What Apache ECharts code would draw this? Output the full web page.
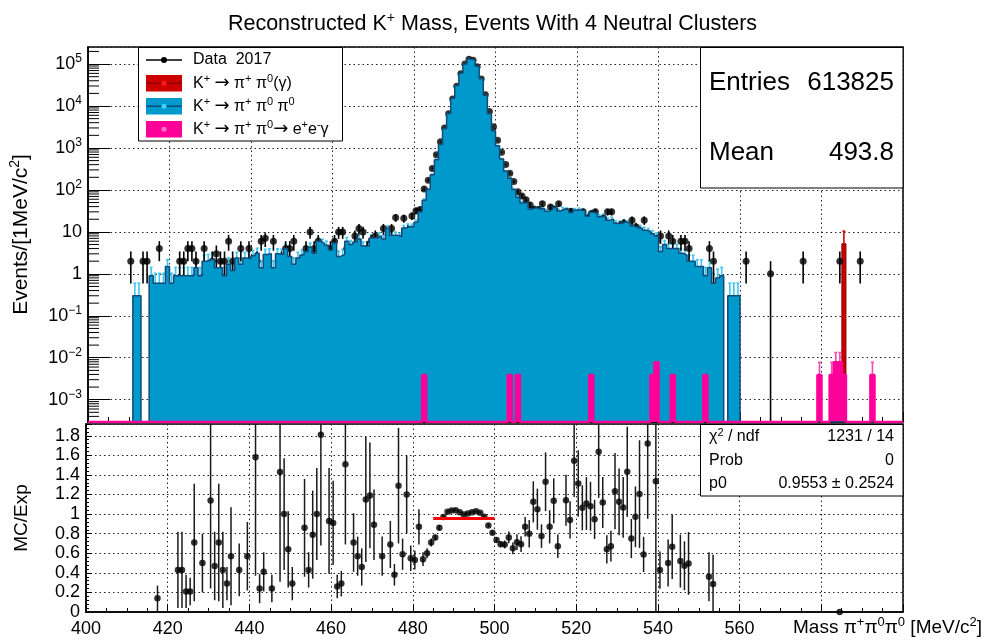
<!DOCTYPE html>
<html>
<head>
<meta charset="utf-8">
<script src="https://cdn.jsdelivr.net/npm/echarts@6/dist/echarts.min.js"></script>
<style>
  html, body { margin: 0; padding: 0; background: #fff; }
  #chart { width: 985px; height: 641px; }
</style>
</head>
<body>
<div id="chart"></div>
<script>
// ---------------- binning ----------------
const X_MIN = 400, X_MAX = 600;          // MeV/c^2, 1 MeV bins
const Y_MIN = 2.94e-4, Y_MAX = 2.55e5;   // log range of the spectrum pad
const R_MIN = 0, R_MAX = 1.92;           // ratio pad range

// ---------------- K+ -> pi+ pi0 pi0 (simulation), bins 411..559 ----------------
const pi0pi0Start = 411;
const pi0pi0Weight = 0.3;
const pi0pi0Vals = [
  0.3, 0.3, 0, 0, 0.9, 0.6, 0.6, 0.6, 1.5, 0.6,
  0.9, 0.9, 0.9, 0.9, 0.9, 1.4, 0.9, 2.0, 2.1, 2.3,
  1.4, 1.4, 0.9, 1.7, 1.2, 2.4, 1.7, 2.4, 2.3, 2.7,
  3.1, 1.4, 2.9, 3.0, 1.4, 3.0, 2.9, 4.0, 2.6, 1.7,
  2.4, 2.8, 3.4, 4.3, 3.1, 6.0, 5.4, 4.8, 3.7, 5.4,
  2.6, 2.9, 6.0, 5.0, 5.7, 6.8, 4.6, 4.6, 7.1, 7.2,
  8.0, 6.8, 12, 8.3, 8.3, 7.7, 12.3, 13.4, 13.3, 17,
  30, 57, 102, 230, 525, 1213, 2916, 6650, 15240, 30800,
  60200, 100600, 131800, 126500, 88600, 44600, 18000, 6540, 2590, 1125,
  547, 280, 190, 102, 66, 48.5, 50, 35, 37.8, 35,
  36, 31, 34, 38, 31.5, 35, 33.8, 28.8, 32.9, 33.6,
  31.5, 23.6, 29.2, 28, 22.9, 23.8, 18.9, 19.9, 16, 15.8,
  17.3, 16, 14, 12.6, 12.3, 11, 10.3, 9, 8, 3.4,
  5, 4, 4, 4, 3.1, 2.8, 2.0, 2.0, 1.5, 1.5,
  0.9, 1.4, 0.6, 0.8, 0.9, 0, 0.3, 0.3, 0.3
];

// ---------------- K+ -> pi+ pi0 -> e+ e- gamma (simulation) ----------------
const dalitzWeight = 0.0039;
const dalitzBins = [482, 503, 505, 523, 538, 539, 543, 551, 579, 582, 583, 584, 585, 592];
const dalitzVals = [0.0039, 0.0039, 0.0039, 0.0039, 0.0039, 0.0078, 0.0039, 0.0039, 0.0039, 0.0039, 0.0078, 0.0078, 0.0039, 0.0039];

// ---------------- K+ -> pi+ pi0 (gamma) (simulation) ----------------
const pi0Weight = 5.2;
const pi0Bins = [585];
const pi0Vals = [5.2];

// ---------------- Data 2017 ----------------
const dataBins = [
  410, 413, 414, 417, 422, 423, 424, 425, 426, 428, 430, 431, 432, 433, 434, 435, 437, 439,
  441, 442, 443, 445, 447, 448, 449, 450, 453, 454, 455, 456, 457, 459, 460,
  461, 462, 463, 464, 465, 466, 467, 468, 469, 470, 471, 472, 473, 474, 475, 476, 477, 478, 479, 480,
  481, 482, 483, 484, 485, 486, 487, 488, 489, 490, 491, 492, 493, 494, 495, 496, 497, 498, 499, 500,
  501, 502, 503, 504, 505, 506, 507, 508, 509, 510, 511, 512, 513, 514, 515, 516, 517, 518, 519, 520,
  521, 522, 523, 524, 525, 526, 527, 528, 529, 530, 531, 532, 533, 534, 535, 536, 537, 538, 539, 540,
  541, 542, 543, 545, 546, 547, 552, 553, 561, 567, 575, 584, 589
];
const dataCounts = [
  2, 2, 2, 4, 2, 2, 4, 4, 2, 4, 2, 3, 2, 2, 6, 2, 4, 4,
  2, 6, 7, 6, 2, 4, 4, 6, 4, 10, 4, 6, 3, 4, 6,
  10, 10, 4, 1, 8, 12, 10, 4, 6, 8, 4, 12, 6, 12, 22, 6, 21, 11, 24, 32,
  34, 105, 171, 324, 693, 1410, 3000, 6500, 14700, 29600, 59000, 101000, 131000, 124000, 86000, 44000, 18500, 7400, 3200, 1530,
  790, 405, 250, 158, 90, 72, 58, 44, 34, 34, 47, 23, 39, 34, 47, 18, 30, 31, 21, 26,
  30, 21, 27, 30, 14, 21, 30, 30, 13, 14, 16, 11, 19, 13, 10, 19, 6, 2, 6, 8,
  2, 8, 6, 6, 6, 4, 4, 2, 2, 1, 2, 2, 2
];

// ---------------- MC / Exp ratio ----------------
const ratioBins = [
  417, 422, 423, 424, 425, 426, 428, 430, 431, 432, 433, 434, 435, 437, 439,
  441, 442, 443, 445, 447, 448, 449, 450, 453, 454, 455, 456, 457, 459, 460,
  461, 462, 463, 465, 466, 467, 468, 469, 470, 472, 474, 475, 476, 477, 478, 479, 480,
  481, 482, 483, 484, 485, 486, 487, 488, 489, 490, 491, 492, 493, 494, 495, 496, 497, 498, 499, 500,
  501, 502, 503, 504, 505, 506, 507, 508, 509, 510, 511, 512, 513, 514, 515, 517, 518, 519, 520,
  521, 522, 523, 524, 525, 526, 527, 528, 529, 530, 531, 532, 533, 534, 535, 536, 537, 539, 540,
  542, 543, 545, 546, 547, 552, 553, 584
];
const ratioVals = [
  0.14, 0.43, 0.43, 0.21, 0.21, 0.71, 0.50, 1.14, 0.47, 0.71, 0.43, 0.29, 0.57, 0.43, 0.57,
  1.58, 0.24, 0.41, 0.24, 1.43, 1.00, 0.64, 0.29, 0.86, 0.43, 0.79, 1.00, 1.81, 0.93, 0.91,
  0.26, 0.29, 1.51, 0.71, 0.57, 0.46, 1.15, 1.19, 0.89, 0.57, 0.69, 0.38, 1.29, 0.59, 1.20, 0.55, 0.53,
  0.87, 0.54, 0.60, 0.71, 0.76, 0.86, 0.97, 1.023, 1.037, 1.04, 1.02, 0.996, 1.006, 1.02, 1.03, 1.013, 0.972, 0.884, 0.81, 0.735,
  0.693, 0.69, 0.762, 0.65, 0.713, 0.693, 0.87, 0.80, 1.125, 1.05, 0.775, 1.33, 0.87, 1.136, 0.672, 1.142, 0.94, 1.545, 1.313,
  1.064, 1.108, 1.08, 0.946, 1.636, 1.118, 0.64, 0.672, 1.234, 1.125, 1.068, 1.432, 0.75, 0.972, 1.204, 0.588, 1.722, 1.336, 0.428,
  0.50, 0.667, 0.52, 0.472, 0.496, 0.36, 0.285, 0
];
const ratioErrs = [
  0.13, 0.39, 0.39, 0.17, 0.14, 0.60, 0.30, 0.90, 0.35, 0.60, 0.39, 0.17, 0.50, 0.27, 0.35,
  1.21, 0.15, 0.20, 0.14, 1.12, 0.57, 0.39, 0.17, 0.50, 0.18, 0.45, 0.47, 1.13, 0.54, 0.43,
  0.12, 0.13, 0.82, 0.30, 0.20, 0.19, 0.64, 0.54, 0.36, 0.20, 0.24, 0.11, 0.59, 0.16, 0.40, 0.13, 0.095,
  0.18, 0.07, 0.05, 0.04, 0.03, 0.025, 0.02, 0.015, 0.01, 0.01, 0.01, 0.01, 0.01, 0.01, 0.01, 0.01, 0.015, 0.02, 0.02, 0.025,
  0.03, 0.04, 0.06, 0.06, 0.08, 0.08, 0.10, 0.14, 0.21, 0.21, 0.12, 0.30, 0.17, 0.23, 0.12, 0.26, 0.19, 0.37, 0.34,
  0.23, 0.27, 0.25, 0.20, 0.47, 0.26, 0.145, 0.157, 0.39, 0.34, 0.31, 0.46, 0.20, 0.31, 0.55, 0.18, 0.77, 1.33, 0.19,
  0.24, 0.33, 0.27, 0.25, 0.32, 0.25, 0.30, 0
];

// ---------------- constant fit to the ratio ----------------
const fitRange = [485, 500];
const fitP0 = 0.9553;
const fitP0Err = 0.2524;
const fitChi2 = 1231, fitNdf = 14;
const statEntries = 613825, statMean = 493.8;

// ---------------- styling ----------------
const F = 'Liberation Sans, Arial, Helvetica, sans-serif';
const F_ARROW = 'DejaVu Sans, Liberation Sans, sans-serif';
const C_BLUE = '#0099cc', C_BLUE_LINE = '#114b78', C_BLUE_ERR = '#3fc6f2';
const C_PINK = '#ff0099', C_PINK_ERR = '#ff47b5';
const C_RED = '#cc0000', C_RED_LINE = '#8f0000';

function rich(size, supSize) {
  return {
    n: { fontSize: size, fontFamily: F, color: '#000', lineHeight: Math.round(size * 1.25) },
    s: { fontSize: supSize, fontFamily: F, color: '#000', lineHeight: supSize, verticalAlign: 'top' },
    a: { fontSize: Math.round(size * 1.1), fontFamily: F_ARROW, color: '#000', lineHeight: Math.round(size * 1.25) }
  };
}

// full-range step histogram points (bin low edges), empty bins sit on the floor
function stepPoints(valueAt) {
  const pts = [];
  for (let b = X_MIN; b < X_MAX; b++) {
    const v = valueAt(b);
    pts.push([b, v > 0 ? v : Y_MIN]);
  }
  pts.push([X_MAX, pts[pts.length - 1][1]]);
  return pts;
}
const bluePts = stepPoints(b => {
  const i = b - pi0pi0Start;
  return (i >= 0 && i < pi0pi0Vals.length) ? pi0pi0Vals[i] : 0;
});
const pinkPts = stepPoints(b => {
  const i = dalitzBins.indexOf(b);
  return i >= 0 ? dalitzVals[i] : 0;
});

// error-bar items: [bin centre, value, error]
const blueErr = [];
pi0pi0Vals.forEach((v, i) => { if (v > 0) blueErr.push([pi0pi0Start + i + 0.5, v, Math.sqrt(pi0pi0Weight * v)]); });
const pinkErr = dalitzBins.map((b, i) => [b + 0.5, dalitzVals[i], Math.sqrt(dalitzWeight * dalitzVals[i])]);
const redErr = pi0Bins.map((b, i) => [b + 0.5, pi0Vals[i], Math.sqrt(pi0Weight * pi0Vals[i])]);
const dataPts = dataBins.map((b, i) => [b + 0.5, dataCounts[i], Math.sqrt(dataCounts[i])]);
const ratioPts = ratioBins.map((b, i) => [b + 0.5, ratioVals[i], ratioErrs[i]]);

// minor ticks of the log axis (2..9 per decade)
const logMinor = [];
for (let k = -4; k <= 5; k++) for (let m = 2; m <= 9; m++) {
  const v = m * Math.pow(10, k);
  if (v > Y_MIN && v < Y_MAX) logMinor.push([X_MIN, v]);
}

function errBar(color, width, lo, hi, cap) {
  return function (params, api) {
    const x = api.value(0), v = api.value(1), e = api.value(2);
    const a = Math.max(v - e, lo), b = Math.min(v + e, hi);
    const p1 = api.coord([x, a]), p2 = api.coord([x, b]);
    const children = [{ type: 'line', shape: { x1: p1[0], y1: p1[1], x2: p2[0], y2: p2[1] },
      style: { stroke: color, lineWidth: width } }];
    if (cap && v + e < hi) children.push({ type: 'line',
      shape: { x1: p2[0] - cap, y1: p2[1], x2: p2[0] + cap, y2: p2[1] }, style: { stroke: color, lineWidth: width } });
    return { type: 'group', children };
  };
}

const dotted = { show: true, lineStyle: { color: '#222', width: 1, type: [1.5, 3] } };

const option = {
  animation: false,
  backgroundColor: '#fff',
  textStyle: { fontFamily: F },
  title: {
    text: '{n|Reconstructed K}{s|+}{n| Mass, Events With 4 Neutral Clusters}',
    left: 'center', top: 6,
    textStyle: { fontSize: 21, fontWeight: 'normal', fontFamily: F, color: '#000', rich: rich(21.5, 14) }
  },
  grid: [
    { left: 86, top: 47, width: 817, height: 375, show: true, borderColor: '#000', borderWidth: 1.5, backgroundColor: 'transparent' },
    { left: 86, top: 424, width: 817, height: 188, show: true, borderColor: '#000', borderWidth: 1.5, backgroundColor: 'transparent' }
  ],
  xAxis: [
    { gridIndex: 0, type: 'value', min: X_MIN, max: X_MAX, interval: 20,
      axisLine: { show: true, lineStyle: { color: '#000', width: 1.5 } },
      axisTick: { show: true, inside: true, length: 10, lineStyle: { color: '#000' } },
      minorTick: { show: true, splitNumber: 4, length: 5, lineStyle: { color: '#000' } },
      axisLabel: { show: false }, splitLine: dotted },
    { gridIndex: 1, type: 'value', min: X_MIN, max: X_MAX, interval: 20,
      axisLine: { show: true, lineStyle: { color: '#000', width: 1.5 } },
      axisTick: { show: true, inside: true, length: 8, lineStyle: { color: '#000' } },
      minorTick: { show: true, splitNumber: 4, length: 4, lineStyle: { color: '#000' } },
      axisLabel: { show: true, fontSize: 18, fontFamily: F, color: '#000', margin: 8,
        formatter: v => (v > 560 ? '' : String(v)) },
      splitLine: dotted,
      name: '{n|Mass π}{s|+}{n|π}{s|0}{n|π}{s|0}{n| [MeV/c}{s|2}{n|]}',
      nameLocation: 'end', nameGap: 79,
      nameTextStyle: { align: 'right', verticalAlign: 'middle', padding: [32, 0, 0, 0], rich: rich(19, 13) } }
  ],
  yAxis: [
    { gridIndex: 0, type: 'log', logBase: 10, min: Y_MIN, max: Y_MAX, splitNumber: 9,
      axisLine: { show: true, lineStyle: { color: '#000', width: 1.5 } },
      axisTick: { show: true, inside: true, length: 22, lineStyle: { color: '#000' } },
      axisLabel: { show: true, fontSize: 18, fontFamily: F, color: '#000', margin: 6, lineHeight: 22,
        showMinLabel: false, showMaxLabel: false,
        rich: { s: { fontSize: 12, fontFamily: F, color: '#000', lineHeight: 12, verticalAlign: 'top' } },
        formatter: v => {
          const e = Math.log10(v), k = Math.round(e);
          if (Math.abs(e - k) > 1e-6) return '';
          if (k === 0) return '1';
          if (k === 1) return '10';
          return '10{s|' + (k < 0 ? '\u2212' + (-k) : k) + '}';
        } },
      splitLine: dotted,
      name: '{n|Events/[1MeV/c}{s|2}{n|]}', nameLocation: 'middle', nameRotate: 90, nameGap: 54,
      nameTextStyle: { rich: rich(21, 14) } },
    { gridIndex: 1, type: 'value', min: R_MIN, max: R_MAX, interval: 0.2,
      axisLine: { show: true, lineStyle: { color: '#000', width: 1.5 } },
      axisTick: { show: true, inside: true, length: 6, lineStyle: { color: '#000' } },
      minorTick: { show: true, splitNumber: 5, length: 3, lineStyle: { color: '#000' } },
      axisLabel: { show: true, fontSize: 18, fontFamily: F, color: '#000', margin: 6, showMaxLabel: false },
      splitLine: dotted,
      name: 'MC/Exp', nameLocation: 'middle', nameRotate: 90, nameGap: 55,
      nameTextStyle: { fontSize: 19, fontFamily: F, color: '#000' } }
  ],
  series: [
    { name: 'log minor ticks', type: 'custom', xAxisIndex: 0, yAxisIndex: 0, data: logMinor, silent: true,
      renderItem: (params, api) => {
        const p = api.coord([api.value(0), api.value(1)]);
        return { type: 'line', shape: { x1: p[0], y1: p[1], x2: p[0] + 11, y2: p[1] }, style: { stroke: '#000', lineWidth: 1 } };
      } },
    { name: 'pi0pi0 err', type: 'custom', xAxisIndex: 0, yAxisIndex: 0, data: blueErr, silent: true,
      renderItem: errBar(C_BLUE_ERR, 1.6, Y_MIN, Y_MAX, 1.5) },
    { name: 'K+ -> pi+ pi0 pi0', type: 'line', xAxisIndex: 0, yAxisIndex: 0, data: bluePts, step: 'end',
      symbol: 'none', lineStyle: { color: C_BLUE_LINE, width: 1.5 },
      areaStyle: { color: C_BLUE, opacity: 1, origin: 'start' } },
    { name: 'dalitz err', type: 'custom', xAxisIndex: 0, yAxisIndex: 0, data: pinkErr, silent: true,
      renderItem: errBar(C_PINK_ERR, 1.6, Y_MIN, Y_MAX, 1.5) },
    { name: 'K+ -> pi+ pi0 -> e+e-gamma', type: 'line', xAxisIndex: 0, yAxisIndex: 0, data: pinkPts, step: 'end',
      symbol: 'none', lineStyle: { color: C_PINK, width: 2.5 },
      areaStyle: { color: C_PINK, opacity: 1, origin: 'start' } },
    { name: 'pi0 err', type: 'custom', xAxisIndex: 0, yAxisIndex: 0, data: redErr, silent: true,
      renderItem: errBar(C_RED, 1.6, Y_MIN, Y_MAX, 1.5) },
    { name: 'K+ -> pi+ pi0(gamma)', type: 'custom', xAxisIndex: 0, yAxisIndex: 0,
      data: pi0Bins.map((b, i) => [b, pi0Vals[i]]),
      renderItem: (params, api) => {
        const b = api.value(0), v = api.value(1);
        const p0 = api.coord([b, Y_MIN]), p1 = api.coord([b + 1, v]);
        return { type: 'rect', shape: { x: p0[0], y: p1[1], width: p1[0] - p0[0], height: p0[1] - p1[1] },
          style: { fill: C_RED, stroke: C_RED_LINE, lineWidth: 1 } };
      } },
    { name: 'data err', type: 'custom', xAxisIndex: 0, yAxisIndex: 0, data: dataPts, silent: true,
      renderItem: errBar('#000', 1.6, Y_MIN, Y_MAX, 0) },
    { name: 'Data 2017', type: 'scatter', xAxisIndex: 0, yAxisIndex: 0,
      data: dataPts.map(d => [d[0], d[1]]), symbol: 'circle', symbolSize: 7,
      itemStyle: { color: '#000' } },
    { name: 'ratio err', type: 'custom', xAxisIndex: 1, yAxisIndex: 1, data: ratioPts, silent: true,
      renderItem: errBar('#1a1a1a', 1.5, R_MIN, R_MAX, 0) },
    { name: 'MC/Exp', type: 'scatter', xAxisIndex: 1, yAxisIndex: 1,
      data: ratioPts.map(d => [d[0], d[1]]), symbol: 'circle', symbolSize: 6.5,
      itemStyle: { color: '#000' } },
    { name: 'fit', type: 'line', xAxisIndex: 1, yAxisIndex: 1,
      data: [[fitRange[0], fitP0], [fitRange[1], fitP0]], symbol: 'none',
      lineStyle: { color: '#ff0000', width: 3 } }
  ],
  graphic: []
};

// ---------------- legend ----------------
const legendRows = [
  { y: 60, text: '{n|Data  2017}', kind: 'data' },
  { y: 83.3, text: '{n|K}{s|+}{n| }{a|→}{n| π}{s|+}{n| π}{s|0}{n|(γ)}', fill: C_RED, line: C_RED_LINE, dot: '#ff1a1a' },
  { y: 106.3, text: '{n|K}{s|+}{n| }{a|→}{n| π}{s|+}{n| π}{s|0}{n| π}{s|0}', fill: C_BLUE, line: C_BLUE_LINE, dot: '#44d0ff' },
  { y: 129.3, text: '{n|K}{s|+}{n| }{a|→}{n| π}{s|+}{n| π}{s|0}{a|→}{n| e}{s|+}{n|e}{s|-}{n|γ}', fill: C_PINK, line: C_PINK, dot: '#ff70c8' }
];
const g = option.graphic;
g.push({ type: 'rect', z: 100, shape: { x: 138.5, y: 47.5, width: 204, height: 93.5 },
  style: { fill: '#fff', stroke: '#000', lineWidth: 1 } });
legendRows.forEach(r => {
  if (r.kind === 'data') {
    g.push({ type: 'line', z: 101, shape: { x1: 146, y1: r.y, x2: 182, y2: r.y }, style: { stroke: '#000', lineWidth: 1.5 } });
    g.push({ type: 'circle', z: 102, shape: { cx: 164, cy: r.y, r: 3 }, style: { fill: '#000' } });
  } else {
    g.push({ type: 'rect', z: 101, shape: { x: 146, y: r.y - 8.3, width: 36, height: 16.6 }, style: { fill: r.fill } });
    g.push({ type: 'line', z: 102, shape: { x1: 146, y1: r.y, x2: 182, y2: r.y }, style: { stroke: r.line, lineWidth: 1.5 } });
    g.push({ type: 'circle', z: 103, shape: { cx: 164, cy: r.y, r: 2.5 }, style: { fill: r.dot } });
  }
  g.push({ type: 'text', z: 103, x: 193, y: r.y,
    style: { text: r.text, rich: rich(16, 11), fontSize: 16, fontFamily: F, fill: '#000', verticalAlign: 'middle', align: 'left' } });
});

// ---------------- statistics box ----------------
g.push({ type: 'rect', z: 100, shape: { x: 700.5, y: 47.5, width: 202.5, height: 140.5 },
  style: { fill: '#fff', stroke: '#000', lineWidth: 1 } });
[['Entries', String(statEntries), 83], ['Mean', statMean.toFixed(1), 153]].forEach(([k, v, y]) => {
  g.push({ type: 'text', z: 101, x: 709, y: y, style: { text: k, fontSize: 26, fontFamily: F, fill: '#000', verticalAlign: 'middle', align: 'left' } });
  g.push({ type: 'text', z: 101, x: 894, y: y, style: { text: v, fontSize: 26, fontFamily: F, fill: '#000', verticalAlign: 'middle', align: 'right' } });
});

// ---------------- fit box ----------------
g.push({ type: 'rect', z: 100, shape: { x: 700.5, y: 424.5, width: 202.5, height: 71.5 },
  style: { fill: '#fff', stroke: '#000', lineWidth: 1 } });
[
  ['{n|χ}{s|2}{n| / ndf}', '{n|' + fitChi2 + ' / ' + fitNdf + '}', 437],
  ['{n|Prob}', '{n|0}', 460.5],
  ['{n|p0}', '{n|' + fitP0.toFixed(4) + ' ± ' + fitP0Err.toFixed(4) + '}', 484]
].forEach(([k, v, y]) => {
  g.push({ type: 'text', z: 101, x: 709, y: y, style: { text: k, rich: rich(16, 11), fontSize: 16, fontFamily: F, fill: '#000', verticalAlign: 'middle', align: 'left' } });
  g.push({ type: 'text', z: 101, x: 894, y: y, style: { text: v, rich: rich(16, 11), fontSize: 16, fontFamily: F, fill: '#000', verticalAlign: 'middle', align: 'right' } });
});

const chart = echarts.init(document.getElementById('chart'), null, { renderer: 'canvas' });
chart.setOption(option);
</script>
</body>
</html>
